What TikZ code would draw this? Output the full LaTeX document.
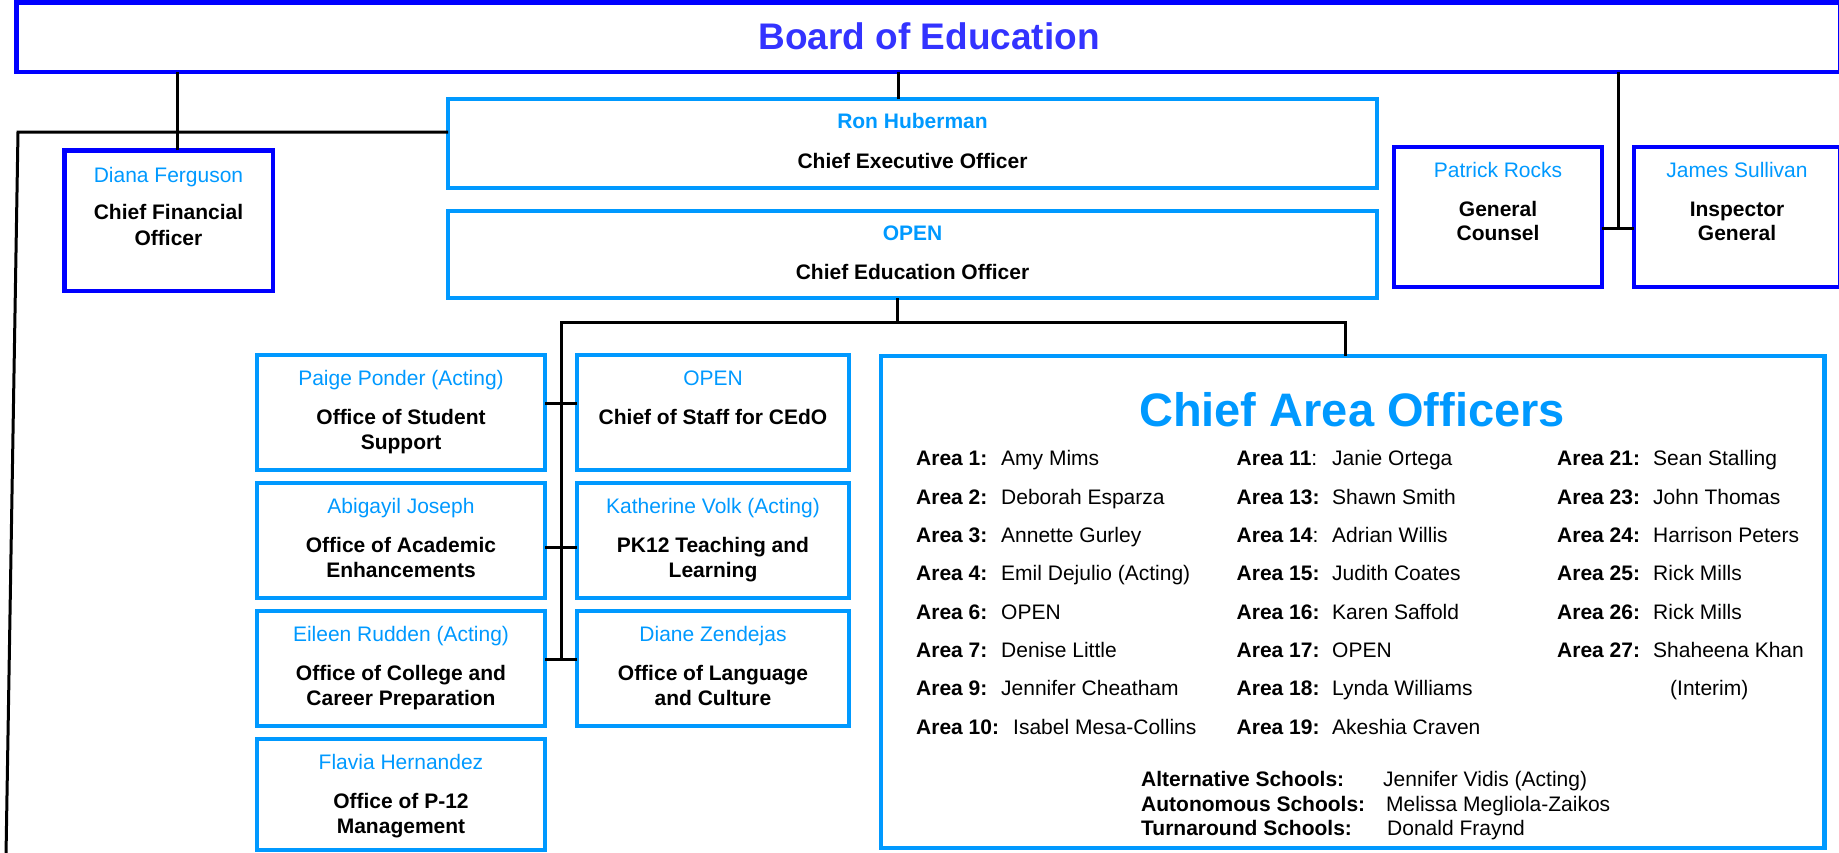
\documentclass[tikz,border=0pt]{standalone}
\usepackage{fontspec}
\setmainfont{Liberation Sans}
\definecolor{bdblue}{HTML}{0000FF}
\definecolor{bdtext}{HTML}{3333FF}
\definecolor{ltblue}{HTML}{0099FF}
\tikzset{
  bbox/.style={draw=bdblue, line width=4.5pt, rectangle, inner sep=0pt, outer sep=0pt},
  lbox/.style={draw=ltblue, line width=4.5pt, rectangle, inner sep=0pt, outer sep=0pt},
  conn/.style={draw=black, line width=3pt},
  nm/.style={anchor=base, inner sep=0pt, text=ltblue, font=\fontsize{21}{25}\selectfont},
  ttl/.style={anchor=base, inner sep=0pt, font=\fontsize{21}{25}\selectfont\bfseries},
  lab/.style={anchor=base west, inner sep=0pt, font=\fontsize{21}{25}\selectfont\bfseries},
  per/.style={anchor=base west, inner sep=0pt, font=\fontsize{21}{25}\selectfont},
}
\begin{document}
\begin{tikzpicture}[x=1pt,y=-1pt]
\useasboundingbox (0,0) rectangle (1839,852);
% Board
\node[bbox, minimum width=1823.5pt, minimum height=69.5pt] (board) at (928,37.25) {};
\node[anchor=base, inner sep=0pt, text=bdtext, font=\fontsize{37}{40}\selectfont\bfseries] (boardT) at (929,49.2) {Board of Education};
% CFO
\node[bbox, minimum width=208.5pt, minimum height=140.5pt] (cfo) at (168.5,220.5) {};
\node[nm] (cfoN) at (168.5,182.5) {Diana Ferguson};
\node[ttl] (cfoT1) at (168.5,219.5) {Chief Financial};
\node[ttl] (cfoT2) at (168.5,245.5) {Officer};
% CEO
\node[lbox, minimum width=929pt, minimum height=89pt] (ceo) at (912.5,143.5) {};
\node[ttl, text=ltblue] (ceoN) at (912.5,128.5) {Ron Huberman};
\node[ttl] (ceoT) at (912.5,168.5) {Chief Executive Officer};
% CEdO
\node[lbox, minimum width=929pt, minimum height=87pt] (cedo) at (912.5,254.5) {};
\node[ttl, text=ltblue] (cedoN) at (912.5,240.5) {OPEN};
\node[ttl] (cedoT) at (912.5,279.5) {Chief Education Officer};
% General Counsel
\node[bbox, minimum width=208pt, minimum height=140pt] (pat) at (1498,217) {};
\node[nm] (patN) at (1498,177.5) {Patrick Rocks};
\node[ttl] (patT1) at (1498,216.5) {General};
\node[ttl] (patT2) at (1498,240.5) {Counsel};
% Inspector General
\node[bbox, minimum width=206pt, minimum height=140pt] (jam) at (1737,217) {};
\node[nm] (jamN) at (1737,177.5) {James Sullivan};
\node[ttl] (jamT1) at (1737,216.5) {Inspector};
\node[ttl] (jamT2) at (1737,240.5) {General};
% Left column
\node[lbox, minimum width=288pt, minimum height=115pt] (oss) at (401,412.5) {};
\node[nm] (ossN) at (401,385.5) {Paige Ponder (Acting)};
\node[ttl] (ossT1) at (401,424.5) {Office of Student};
\node[ttl] (ossT2) at (401,449.5) {Support};
\node[lbox, minimum width=288pt, minimum height=115pt] (oae) at (401,540.5) {};
\node[nm] (oaeN) at (401,513.5) {Abigayil Joseph};
\node[ttl] (oaeT1) at (401,552.5) {Office of Academic};
\node[ttl] (oaeT2) at (401,577.5) {Enhancements};
\node[lbox, minimum width=288pt, minimum height=115pt] (occ) at (401,668.5) {};
\node[nm] (occN) at (401,641.5) {Eileen Rudden (Acting)};
\node[ttl] (occT1) at (401,680.5) {Office of College and};
\node[ttl] (occT2) at (401,705.5) {Career Preparation};
\node[lbox, minimum width=288pt, minimum height=111pt] (opm) at (401,794.5) {};
\node[nm] (opmN) at (401,769.5) {Flavia Hernandez};
\node[ttl] (opmT1) at (401,808.5) {Office of P-12};
\node[ttl] (opmT2) at (401,833.5) {Management};
% Right column
\node[lbox, minimum width=272pt, minimum height=115pt] (cos) at (713,412.5) {};
\node[nm] (cosN) at (713,385.5) {OPEN};
\node[ttl] (cosT1) at (713,424.5) {Chief of Staff for CEdO};
\node[lbox, minimum width=272pt, minimum height=115pt] (ptl) at (713,540.5) {};
\node[nm] (ptlN) at (713,513.5) {Katherine Volk (Acting)};
\node[ttl] (ptlT1) at (713,552.5) {PK12 Teaching and};
\node[ttl] (ptlT2) at (713,577.5) {Learning};
\node[lbox, minimum width=272pt, minimum height=115pt] (olc) at (713,668.5) {};
\node[nm] (olcN) at (713,641.5) {Diane Zendejas};
\node[ttl] (olcT1) at (713,680.5) {Office of Language};
\node[ttl] (olcT2) at (713,705.5) {and Culture};
% Chief Area Officers
\node[lbox, minimum width=943.5pt, minimum height=492pt] (cao) at (1352.75,602) {};
\node[anchor=base, inner sep=0pt, text=ltblue, font=\fontsize{47}{50}\selectfont\bfseries] (caoT) at (1352,426.8) {Chief Area Officers};
% column 1
\node[lab] (l1) at (916,465.5) {Area 1:};   \node[per] (p1) at (1001,465.5) {Amy Mims};
\node[lab] (l2) at (916,504.5) {Area 2:};   \node[per] (p2) at (1001,504.5) {Deborah Esparza};
\node[lab] (l3) at (916,542.5) {Area 3:};   \node[per] (p3) at (1001,542.5) {Annette Gurley};
\node[lab] (l4) at (916,580.5) {Area 4:};   \node[per] (p4) at (1001,580.5) {Emil Dejulio (Acting)};
\node[lab] (l6) at (916,619.5) {Area 6:};   \node[per] (p6) at (1001,619.5) {OPEN};
\node[lab] (l7) at (916,657.5) {Area 7:};   \node[per] (p7) at (1001,657.5) {Denise Little};
\node[lab] (l9) at (916,695.5) {Area 9:};   \node[per] (p9) at (1001,695.5) {Jennifer Cheatham};
\node[lab] (l10) at (916,734.5) {Area 10:}; \node[per] (p10) at (1013,734.5) {Isabel Mesa-Collins};
% column 2
\node[lab] (l11) at (1236.5,465.5) {Area 11\mdseries:}; \node[per] (p11) at (1332,465.5) {Janie Ortega};
\node[lab] (l13) at (1236.5,504.5) {Area 13:}; \node[per] (p13) at (1332,504.5) {Shawn Smith};
\node[lab] (l14) at (1236.5,542.5) {Area 14\mdseries:}; \node[per] (p14) at (1332,542.5) {Adrian Willis};
\node[lab] (l15) at (1236.5,580.5) {Area 15:}; \node[per] (p15) at (1332,580.5) {Judith Coates};
\node[lab] (l16) at (1236.5,619.5) {Area 16:}; \node[per] (p16) at (1332,619.5) {Karen Saffold};
\node[lab] (l17) at (1236.5,657.5) {Area 17:}; \node[per] (p17) at (1332,657.5) {OPEN};
\node[lab] (l18) at (1236.5,695.5) {Area 18:}; \node[per] (p18) at (1332,695.5) {Lynda Williams};
\node[lab] (l19) at (1236.5,734.5) {Area 19:}; \node[per] (p19) at (1332,734.5) {Akeshia Craven};
% column 3
\node[lab] (l21) at (1557,465.5) {Area 21:}; \node[per] (p21) at (1653,465.5) {Sean Stalling};
\node[lab] (l23) at (1557,504.5) {Area 23:}; \node[per] (p23) at (1653,504.5) {John Thomas};
\node[lab] (l24) at (1557,542.5) {Area 24:}; \node[per] (p24) at (1653,542.5) {Harrison Peters};
\node[lab] (l25) at (1557,580.5) {Area 25:}; \node[per] (p25) at (1653,580.5) {Rick Mills};
\node[lab] (l26) at (1557,619.5) {Area 26:}; \node[per] (p26) at (1653,619.5) {Rick Mills};
\node[lab] (l27) at (1557,657.5) {Area 27:}; \node[per] (p27) at (1653,657.5) {Shaheena Khan};
\node[per] (p27b) at (1670,695.5) {(Interim)};
% special schools
\node[lab] (sa) at (1141,786.5) {Alternative Schools:}; \node[per] (sap) at (1383,786.5) {Jennifer Vidis (Acting)};
\node[lab] (sb) at (1141,811.5) {Autonomous Schools:}; \node[per] (sbp) at (1386,811.5) {Melissa Megliola-Zaikos};
\node[lab] (sc) at (1141,835.5) {Turnaround Schools:}; \node[per] (scp) at (1387,835.5) {Donald Fraynd};
% connectors
\draw[conn] ([xshift=8.5pt]cfo.north) -- ([xshift=8.5pt]cfo.north |- board.south);
\draw[conn] ([xshift=-14.5pt]ceo.north) -- ([xshift=-14.5pt]ceo.north |- board.south);
\coordinate (lt) at (18,132);
\coordinate (lb) at (6,856);
\draw[conn] (ceo.west |- lt) -- (lt) -- (lb);
\coordinate (pj) at (1618,228);
\draw[conn] (pj |- board.south) -- (pj);
\draw[conn] (pat.east |- pj) -- (jam.west |- pj);
\coordinate (cm) at (897,322.5);
\coordinate (cl) at (561,322.5);
\coordinate (cr) at (1345,322.5);
\coordinate (cb) at (561,659);
\draw[conn] (cedo.south -| cm) -- (cm);
\draw[conn] (cb) -- (cl) -- (cr) -- (cr |- cao.north);
\draw[conn] (oss.east |- 0,403) -- (cos.west |- 0,403);
\draw[conn] (oae.east |- 0,547.5) -- (ptl.west |- 0,547.5);
\draw[conn] (occ.east |- cb) -- (olc.west |- cb);
\end{tikzpicture}
\end{document}
